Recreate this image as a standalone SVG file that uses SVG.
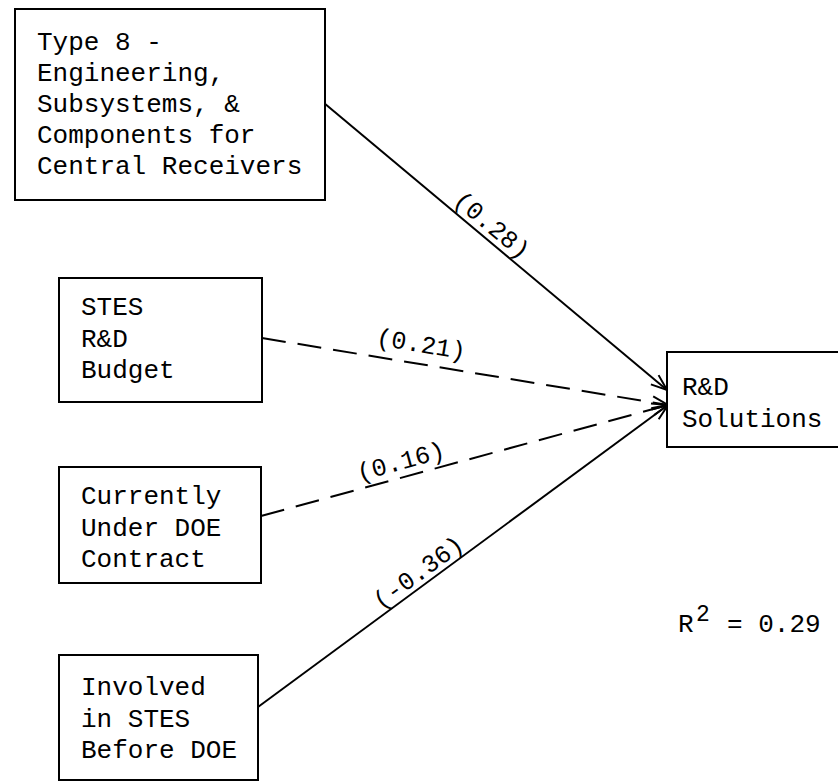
<svg xmlns="http://www.w3.org/2000/svg" width="838" height="783" viewBox="0 0 838 783">
  <style>
    .box { fill: #fff; stroke: #000; stroke-width: 2; }
    .t { font-family: "Liberation Mono", "Courier New", monospace; font-size: 26px; fill: #000; }
    .lbl { font-family: "Liberation Mono", "Courier New", monospace; font-size: 25px; fill: #000; text-anchor: middle; }
    .edge { stroke: #000; stroke-width: 2; fill: none; }
    .dash { stroke-dasharray: 24 12; }
  </style>
  <defs>
    <marker id="arr" markerUnits="userSpaceOnUse" markerWidth="20" markerHeight="16" refX="17" refY="7" orient="auto" viewBox="0 0 20 14">
      <path d="M1,1 L17,7 L1,13" fill="none" stroke="#000" stroke-width="2"/>
    </marker>
  </defs>
  <rect width="838" height="783" fill="#fff"/>

  <g id="connectors">
    <line class="edge" x1="324" y1="103" x2="667" y2="390" marker-end="url(#arr)"/>
    <line class="edge dash" x1="262" y1="338" x2="668" y2="405" marker-end="url(#arr)"/>
    <line class="edge dash" x1="261" y1="516" x2="668" y2="405" marker-end="url(#arr)"/>
    <line class="edge" x1="258" y1="707" x2="668" y2="405" marker-end="url(#arr)"/>
    <g transform="translate(483,236) rotate(39.9)"><text class="lbl" x="0" y="-6">(0.28)</text></g>
    <g transform="translate(418,364) rotate(9.4)"><text class="lbl" x="0" y="-12">(0.21)</text></g>
    <g transform="translate(405,477) rotate(-15.3)"><text class="lbl" x="0" y="-8">(0.16)</text></g>
    <g transform="translate(426,583) rotate(-36.4)"><text class="lbl" x="0" y="-5">(-0.36)</text></g>
  </g>

  <g id="n-type8">
    <rect class="box" x="15" y="9" width="310" height="191"/>
    <text class="t" x="37" y="50">Type 8 -</text>
    <text class="t" x="37" y="81">Engineering,</text>
    <text class="t" x="37" y="112">Subsystems, &amp;</text>
    <text class="t" x="37" y="143">Components for</text>
    <text class="t" x="37" y="174">Central Receivers</text>
  </g>

  <g id="n-stes">
    <rect class="box" x="59" y="278" width="203" height="124"/>
    <text class="t" x="81" y="315">STES</text>
    <text class="t" x="81" y="347">R&amp;D</text>
    <text class="t" x="81" y="378">Budget</text>
  </g>

  <g id="n-doe">
    <rect class="box" x="59" y="467" width="202" height="116"/>
    <text class="t" x="81" y="504">Currently</text>
    <text class="t" x="81" y="536">Under DOE</text>
    <text class="t" x="81" y="567">Contract</text>
  </g>

  <g id="n-involved">
    <rect class="box" x="59" y="655" width="199" height="125"/>
    <text class="t" x="81" y="695">Involved</text>
    <text class="t" x="81" y="727">in STES</text>
    <text class="t" x="81" y="758">Before DOE</text>
  </g>

  <g id="n-rd">
    <rect class="box" x="667" y="352" width="180" height="95"/>
    <text class="t" x="682" y="395">R&amp;D</text>
    <text class="t" x="682" y="427">Solutions</text>
  </g>

  <g id="r2">
    <text class="t" x="678" y="632">R</text>
    <text class="t" x="696" y="621" style="font-size:23px">2</text>
    <text class="t" x="727" y="632">= 0.29</text>
  </g>
</svg>
